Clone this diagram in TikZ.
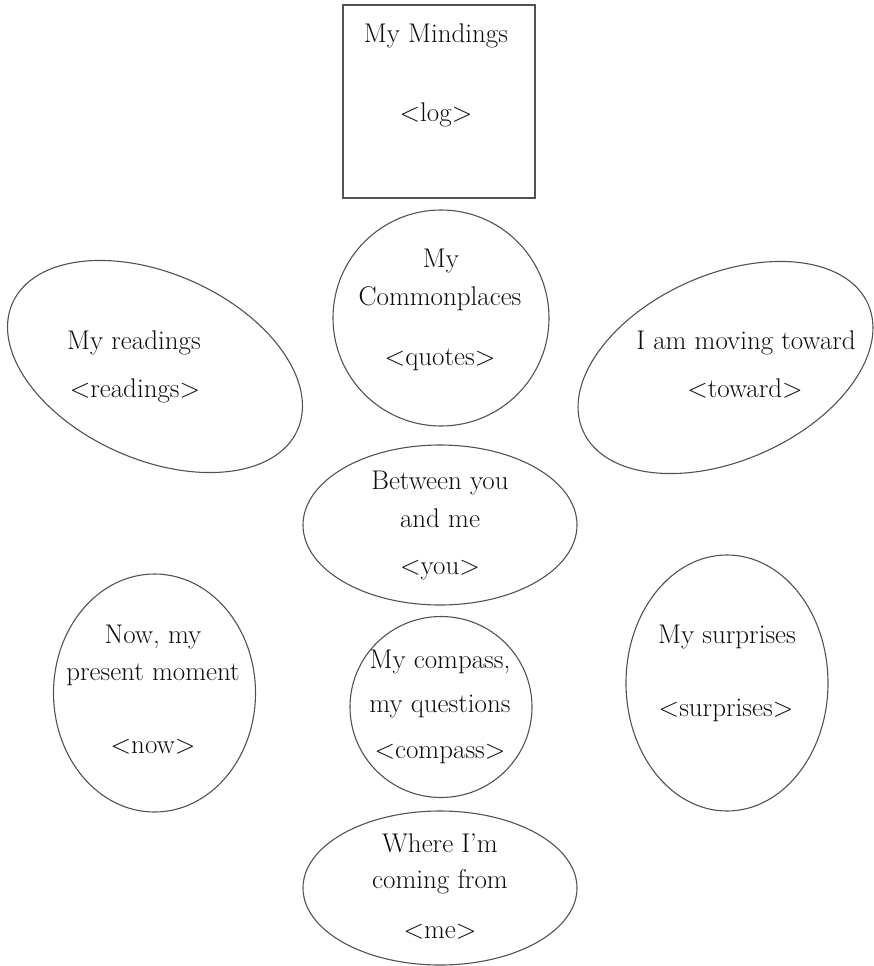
\documentclass[tikz,border=0pt]{standalone}
\usepackage{fontspec}
\usetikzlibrary{shapes.geometric}
\begin{document}
\begin{tikzpicture}[x=1pt,y=-1pt,
  shp/.style={draw=black!68, line width=1.1pt, inner sep=0pt, outer sep=0pt},
  oval/.style={shp, ellipse},
  lbl/.style={anchor=base, inner sep=0pt, text=black!95, font=\fontsize{27}{32}\selectfont}]
\useasboundingbox (0,0) rectangle (873,966);
% shapes
\node[shp, rectangle, minimum width=192pt, minimum height=193pt] (log) at (439,101.5) {};
\node[oval, minimum width=216pt, minimum height=216pt] (quotes) at (441,318) {};
\node[oval, minimum width=312pt, minimum height=186pt, rotate=-24] (readings) at (155,366.5) {};
\node[oval, minimum width=312pt, minimum height=186pt, rotate=24] (toward) at (725.5,367.5) {};
\node[oval, minimum width=274pt, minimum height=160pt] (you) at (440,525) {};
\node[oval, minimum width=202pt, minimum height=238pt] (now) at (154.5,693) {};
\node[oval, minimum width=202pt, minimum height=256pt] (surprises) at (727,683) {};
\node[oval, minimum width=182pt, minimum height=181pt] (compass) at (441,707) {};
\node[oval, minimum width=274pt, minimum height=154pt] (me) at (440,888) {};
% texts
\node[lbl] (t1) at (436,43) {My Mindings};
\node[lbl] (t2) at (436,121) {<log>};
\node[lbl] (t3) at (441,267) {My};
\node[lbl] (t4) at (440,305) {Commonplaces};
\node[lbl] (t5) at (440,365) {<quotes>};
\node[lbl] (t6) at (134,349) {My readings};
\node[lbl] (t7) at (135,397) {<readings>};
\node[lbl] (t8) at (746,349) {I am moving toward};
\node[lbl] (t9) at (745,397) {<toward>};
\node[lbl] (t10) at (440,489) {Between you};
\node[lbl] (t11) at (440,527) {and me};
\node[lbl] (t12) at (440,574) {<you>};
\node[lbl] (t13) at (153,643) {Now, my};
\node[lbl] (t14) at (153,680) {present moment};
\node[lbl] (t15) at (153,753) {<now>};
\node[lbl] (t16) at (440,668) {My compass,};
\node[lbl] (t17) at (440,712) {my questions};
\node[lbl] (t18) at (440,758) {<compass>};
\node[lbl] (t19) at (727,643) {My surprises};
\node[lbl] (t20) at (726,716) {<surprises>};
\node[lbl] (t21) at (440,852) {Where I'm};
\node[lbl] (t22) at (440,888) {coming from};
\node[lbl] (t23) at (440,938) {<me>};
\end{tikzpicture}
\end{document}
